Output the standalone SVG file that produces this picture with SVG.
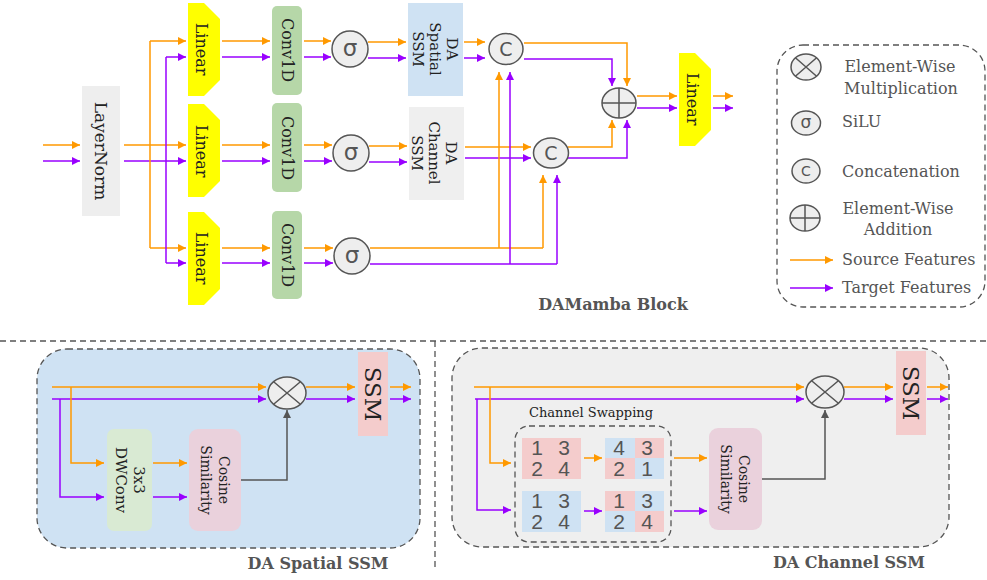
<svg xmlns="http://www.w3.org/2000/svg" width="987" height="580" viewBox="0 0 987 580">
<style>
.o{stroke:#ff9900;stroke-width:1.5;fill:none;marker-end:url(#ao)}
.on{stroke:#ff9900;stroke-width:1.5;fill:none}
.p{stroke:#9900ff;stroke-width:1.5;fill:none;marker-end:url(#ap)}
.pn{stroke:#9900ff;stroke-width:1.5;fill:none}
.g{stroke:#555;stroke-width:1.5;fill:none;marker-end:url(#ag)}
.op{fill:#eeeeee;stroke:#555;stroke-width:1.5}
.lin{fill:#ffff00}
.conv{fill:#b6d7a8}
.t{font-family:"DejaVu Serif",serif;fill:#222;text-anchor:middle;dominant-baseline:central}
.lg{font-family:"DejaVu Serif",serif;fill:#555;font-size:16px}
.b{font-family:"DejaVu Serif",serif;fill:#555;font-weight:bold;font-size:16px;text-anchor:middle}
.sym{font-family:"DejaVu Sans",sans-serif;fill:#555;text-anchor:middle;dominant-baseline:central}
.d{font-family:"Liberation Sans",Arial,sans-serif;fill:#555;font-size:21px;text-anchor:middle}
.dash{fill:none;stroke:#555;stroke-width:1.3;stroke-dasharray:6,4}
</style>
<defs>
<marker id="ao" viewBox="0 0 10 10" refX="10" refY="5" markerWidth="10" markerHeight="8" markerUnits="userSpaceOnUse" orient="auto"><path d="M0,0 L10,5 L0,10 z" fill="#ff9900"/></marker>
<marker id="ap" viewBox="0 0 10 10" refX="10" refY="5" markerWidth="10" markerHeight="8" markerUnits="userSpaceOnUse" orient="auto"><path d="M0,0 L10,5 L0,10 z" fill="#9900ff"/></marker>
<marker id="ag" viewBox="0 0 10 10" refX="10" refY="5" markerWidth="10" markerHeight="8" markerUnits="userSpaceOnUse" orient="auto"><path d="M0,0 L10,5 L0,10 z" fill="#555"/></marker>
</defs>

<!-- ===== Top: DAMamba Block ===== -->
<g id="connectors">
<path class="o" d="M43,145 H80"/><path class="p" d="M43,161 H80"/>
<path class="o" d="M124,145 H186"/><path class="p" d="M124,161 H186"/>
<path class="on" d="M150,41 V248"/><path class="o" d="M150,41 H186"/><path class="o" d="M150,248 H186"/>
<path class="pn" d="M166,57 V263"/><path class="p" d="M166,57 H186"/><path class="p" d="M166,263 H186"/>
<path class="o" d="M222,41 H270"/><path class="p" d="M222,57 H270"/>
<path class="o" d="M222,145 H270"/><path class="p" d="M222,161 H270"/>
<path class="o" d="M222,248 H270"/><path class="p" d="M222,263 H270"/>
<path class="o" d="M304,41 H331"/><path class="p" d="M304,57 H331"/>
<path class="o" d="M304,145 H332"/><path class="p" d="M304,161 H332"/>
<path class="o" d="M304,248 H333"/><path class="p" d="M304,263 H333"/>
<path class="o" d="M368,42 H406"/><path class="p" d="M368,58 H406"/>
<path class="o" d="M369,146 H407"/><path class="p" d="M369,162 H407"/>
<path class="o" d="M464,42 H485"/><path class="p" d="M464,58 H485"/>
<path class="o" d="M465,147 H531"/><path class="p" d="M465,158 H531"/>
<path class="on" d="M370,248 H543"/><path class="o" d="M499,248 V72"/><path class="o" d="M543,248 V175"/>
<path class="pn" d="M370,264 H557"/><path class="p" d="M510,264 V72"/><path class="p" d="M557,264 V175"/>
<path class="o" d="M524,43 H627 V86"/><path class="p" d="M524,59 H612 V86"/>
<path class="o" d="M568,147 H612 V120"/><path class="p" d="M568,158 H627 V120"/>
<path class="o" d="M637,96 H677"/><path class="p" d="M637,108 H677"/>
<path class="o" d="M713,96 H733"/><path class="p" d="M713,108 H733"/>
</g>

<g id="layernorm"><rect x="82" y="86" width="38" height="130" fill="#eeeeee"/><text class="t" font-size="17" transform="translate(101,151) rotate(90)">LayerNorm</text></g>

<g id="linear1"><polygon class="lin" points="188,3 204,3 220,19 220,80 204,96 188,96"/><text class="t" font-size="16" transform="translate(201,49) rotate(90)">Linear</text></g>
<g id="linear2"><polygon class="lin" points="188,104 204,104 220,120 220,181 204,197 188,197"/><text class="t" font-size="16" transform="translate(201,151) rotate(90)">Linear</text></g>
<g id="linear3"><polygon class="lin" points="188,212 204,212 220,228 220,289 204,305 188,305"/><text class="t" font-size="16" transform="translate(201,258) rotate(90)">Linear</text></g>

<g id="conv1"><rect class="conv" x="272" y="6" width="30" height="89" rx="5"/><text class="t" font-size="16" transform="translate(287,50) rotate(90)">Conv1D</text></g>
<g id="conv2"><rect class="conv" x="272" y="103" width="30" height="89" rx="5"/><text class="t" font-size="16" transform="translate(287,148) rotate(90)">Conv1D</text></g>
<g id="conv3"><rect class="conv" x="272" y="211" width="30" height="88" rx="5"/><text class="t" font-size="16" transform="translate(287,255) rotate(90)">Conv1D</text></g>

<g id="silu1"><circle class="op" cx="350" cy="49" r="18"/><text class="sym" x="350" y="48" font-size="23">σ</text></g>
<g id="silu2"><circle class="op" cx="351" cy="153" r="18"/><text class="sym" x="351" y="152" font-size="23">σ</text></g>
<g id="silu3"><circle class="op" cx="352" cy="256" r="18"/><text class="sym" x="352" y="255" font-size="23">σ</text></g>

<g id="daspatial"><rect x="408" y="3" width="55" height="93" fill="#cfe2f3"/>
<text class="t" font-size="15" transform="translate(435,49) rotate(90)"><tspan x="0" y="-17">DA</tspan><tspan x="0" y="0">Spatial</tspan><tspan x="0" y="17">SSM</tspan></text></g>
<g id="dachannel"><rect x="409" y="107" width="55" height="93" fill="#efefef"/>
<text class="t" font-size="15" transform="translate(434,153) rotate(90)"><tspan x="0" y="-17">DA</tspan><tspan x="0" y="0">Channel</tspan><tspan x="0" y="17">SSM</tspan></text></g>

<g id="concat1"><ellipse class="op" cx="506" cy="49" rx="17" ry="15.5"/><text class="sym" x="506" y="49" font-size="19">C</text></g>
<g id="concat2"><ellipse class="op" cx="551" cy="153" rx="17.5" ry="15"/><text class="sym" x="551" y="153" font-size="19">C</text></g>
<g id="add"><ellipse class="op" cx="619" cy="103" rx="17" ry="15"/><path d="M602,103 H636 M619,88 V118" stroke="#555" stroke-width="1.5"/></g>

<g id="linear4"><polygon class="lin" points="679,53 695,53 711,69 711,130 695,146 679,146"/><text class="t" font-size="16" transform="translate(692,99) rotate(90)">Linear</text></g>

<text class="b" x="613" y="310">DAMamba Block</text>

<!-- Legend -->
<g id="legend">
<rect class="dash" x="777" y="45" width="208" height="262" rx="26"/>
<ellipse class="op" cx="806" cy="67" rx="15" ry="13"/><path d="M795.4,57.8 L816.6,76.2 M816.6,57.8 L795.4,76.2" stroke="#555" stroke-width="1.5"/>
<text class="lg" x="900" y="72" text-anchor="middle">Element-Wise</text>
<text class="lg" x="901" y="94" text-anchor="middle">Multiplication</text>
<ellipse class="op" cx="806" cy="123" rx="14.5" ry="12"/><text class="sym" x="806" y="122" font-size="17">σ</text>
<text class="lg" x="842" y="127">SiLU</text>
<ellipse class="op" cx="806" cy="171" rx="14" ry="12"/><text class="sym" x="806" y="171" font-size="14">C</text>
<text class="lg" x="842" y="177">Concatenation</text>
<ellipse class="op" cx="805" cy="218" rx="15" ry="13"/><path d="M790,218 H820 M805,205 V231" stroke="#555" stroke-width="1.5"/>
<text class="lg" x="898" y="214" text-anchor="middle">Element-Wise</text>
<text class="lg" x="898" y="235" text-anchor="middle">Addition</text>
<path class="o" d="M790,260 H833"/><text class="lg" x="842" y="265">Source Features</text>
<path class="p" d="M790,288 H833"/><text class="lg" x="842" y="293">Target Features</text>
</g>

<!-- ===== Bottom separators ===== -->
<path class="dash" d="M0,341 H987 M435,341 V570"/>

<!-- DA Spatial SSM -->
<g id="spatial-ssm">
<rect x="37" y="349" width="383" height="199" rx="30" fill="#cfe2f3" stroke="#555" stroke-width="1.3" stroke-dasharray="6,4"/>
<path class="o" d="M52,387 H266"/><path class="p" d="M52,399 H266"/>
<path class="o" d="M71,387 V463 H104"/><path class="p" d="M60,399 V497 H104"/>
<rect x="107" y="429" width="45" height="102" rx="7" fill="#d9ead3"/>
<text class="t" font-size="15" transform="translate(130,480) rotate(90)"><tspan x="0" y="-9">3x3</tspan><tspan x="0" y="9">DWConv</tspan></text>
<path class="o" d="M153,463 H187"/><path class="p" d="M153,497 H187"/>
<rect x="189" y="429" width="52" height="102" rx="9" fill="#ead1dc"/>
<text class="t" font-size="14" transform="translate(215,480) rotate(90)"><tspan x="0" y="-9">Cosine</tspan><tspan x="0" y="9">Similarity</tspan></text>
<path class="g" d="M241,480 H287 V410"/>
<ellipse class="op" cx="287" cy="393" rx="19" ry="16"/><path d="M273.6,381.7 L300.4,404.3 M300.4,381.7 L273.6,404.3" stroke="#555" stroke-width="1.5"/>
<path class="o" d="M306,387 H355"/><path class="p" d="M306,399 H355"/>
<rect x="358" y="352" width="30" height="84" fill="#f4cccc"/>
<text class="t" font-size="23" transform="translate(373,394) rotate(90)">SSM</text>
<path class="o" d="M390,387 H411"/><path class="p" d="M390,399 H411"/>
</g>
<text class="b" x="318" y="569">DA Spatial SSM</text>

<!-- DA Channel SSM -->
<g id="channel-ssm">
<rect x="452" y="348" width="497" height="199" rx="30" fill="#efefef" stroke="#555" stroke-width="1.3" stroke-dasharray="6,4"/>
<path class="o" d="M474,387 H804"/><path class="p" d="M475,399 H804"/>
<path class="o" d="M490,387 V463 H511"/><path class="p" d="M477,399 V510 H511"/>
<rect class="dash" x="515" y="426" width="156" height="116" rx="14"/>
<text class="t" font-size="13" x="591" y="412">Channel Swapping</text>
<rect x="522" y="438" width="59" height="41" fill="#f4cccc"/>
<text class="d" x="537" y="455">1</text><text class="d" x="564" y="455">3</text>
<text class="d" x="537" y="476">2</text><text class="d" x="564" y="476">4</text>
<path class="o" d="M584,458 H602"/>
<rect x="605" y="438" width="30" height="20" fill="#cfe2f3"/><rect x="635" y="438" width="29" height="20" fill="#f4cccc"/>
<rect x="605" y="458" width="30" height="21" fill="#f4cccc"/><rect x="635" y="458" width="29" height="21" fill="#cfe2f3"/>
<text class="d" x="619" y="455">4</text><text class="d" x="647" y="455">3</text>
<text class="d" x="619" y="476">2</text><text class="d" x="647" y="476">1</text>
<rect x="522" y="491" width="59" height="41" fill="#cfe2f3"/>
<text class="d" x="537" y="508">1</text><text class="d" x="564" y="508">3</text>
<text class="d" x="537" y="529">2</text><text class="d" x="564" y="529">4</text>
<path class="p" d="M584,511 H602"/>
<rect x="605" y="491" width="30" height="20" fill="#f4cccc"/><rect x="635" y="491" width="29" height="20" fill="#cfe2f3"/>
<rect x="605" y="511" width="30" height="21" fill="#cfe2f3"/><rect x="635" y="511" width="29" height="21" fill="#f4cccc"/>
<text class="d" x="619" y="508">1</text><text class="d" x="647" y="508">3</text>
<text class="d" x="619" y="529">2</text><text class="d" x="647" y="529">4</text>
<path class="o" d="M674,458 H707"/><path class="p" d="M674,511 H707"/>
<rect x="709" y="428" width="53" height="102" rx="9" fill="#ead1dc"/>
<text class="t" font-size="14" transform="translate(735,479) rotate(90)"><tspan x="0" y="-9">Cosine</tspan><tspan x="0" y="9">Similarity</tspan></text>
<path class="g" d="M762,479 H825 V410"/>
<ellipse class="op" cx="825" cy="392" rx="19" ry="16"/><path d="M811.6,380.7 L838.4,403.3 M838.4,380.7 L811.6,403.3" stroke="#555" stroke-width="1.5"/>
<path class="o" d="M844,387 H893"/><path class="p" d="M844,399 H893"/>
<rect x="896" y="351" width="30" height="84" fill="#f4cccc"/>
<text class="t" font-size="23" transform="translate(911,393) rotate(90)">SSM</text>
<path class="o" d="M927,387 H948"/><path class="p" d="M927,399 H948"/>
</g>
<text class="b" x="849" y="568">DA Channel SSM</text>
</svg>
